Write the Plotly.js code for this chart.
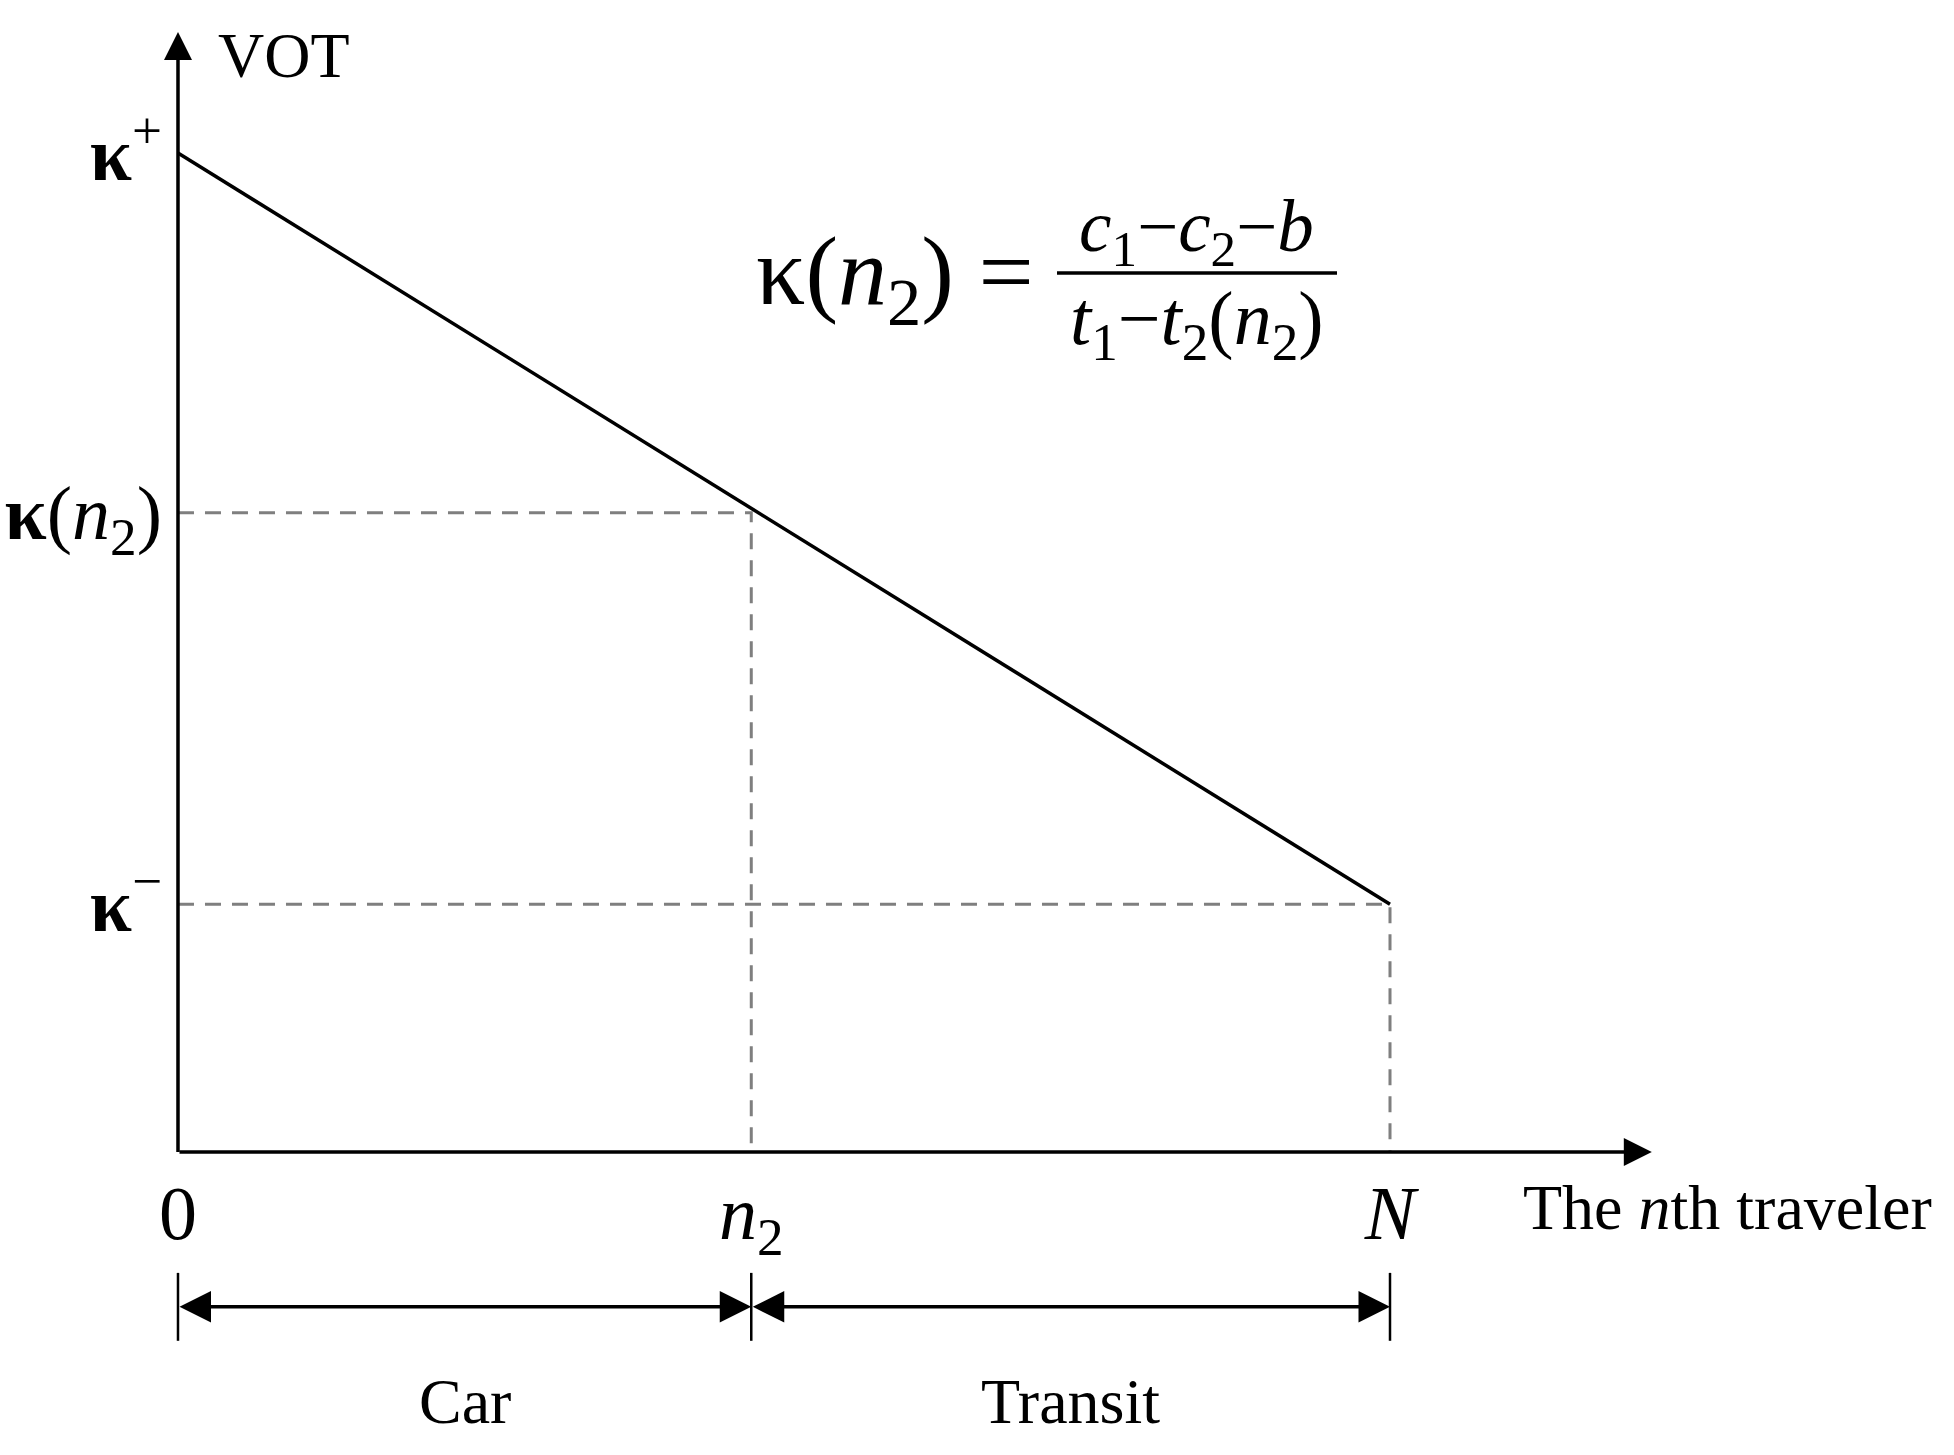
<!DOCTYPE html>
<html>
<head>
<meta charset="utf-8">
<script src="https://cdn.plot.ly/plotly-3.0.1.min.js"></script>
<style>
  html, body { margin: 0; padding: 0; background: #fff; }
  #chart { width: 1954px; height: 1455px; }
</style>
</head>
<body>
<div id="chart"></div>
<script>
// travelers along the horizontal axis: 0, n2, N
const travelers = [0, 47.3, 100];
const travelerTicks = ['0', '<i>n</i><sub>2</sub>', '<i>N</i>'];

// value of time: kappa+, kappa(n2), kappa-
const vot = [100, 64.0, 24.8];
const votTicks = ['<b>κ</b><sup>+</sup>', '<b>κ</b>(<i>n</i><sub>2</sub>)', '<b>κ</b><sup>−</sup>'];

// mode split below the axis
const modes = ['Car', 'Transit'];

const W = 1954, H = 1455;
const serif = '"Liberation Serif", "Times New Roman", serif';

// helpers for placing text in page pixels
const px = v => v / W;
const py = v => 1 - v / H;

// axis extents (data units)
const xEnd = 121.6;
const yEnd = 112.1;
const dimY = -15.5;
const dimTick = 3.4;

const guideColor = '#7f7f7f';

// demand line from kappa+ at 0 down to kappa- at N
const demand = {
    x: [travelers[0], travelers[2]],
    y: [vot[0], vot[2]],
    mode: 'lines',
    line: {color: '#000', width: 3.5},
    hoverinfo: 'skip'
};

// dashed guides at n2 and N
const guides = {
    x: [travelers[0], travelers[1], travelers[1], null, travelers[0], travelers[2], travelers[2]],
    y: [vot[1], vot[1], 0, null, vot[2], vot[2], 0],
    mode: 'lines',
    line: {color: guideColor, width: 3, dash: '16px,11px'},
    hoverinfo: 'skip'
};

// small vertical ticks of the dimension line
const dimX = [], dimYs = [];
travelers.forEach(t => {
    dimX.push(t, t, null);
    dimYs.push(dimY + dimTick, dimY - dimTick, null);
});
const dimTicks = {
    x: dimX,
    y: dimYs,
    mode: 'lines',
    line: {color: '#000', width: 2.5},
    hoverinfo: 'skip'
};

function arrow(x, y, ax, ay, both, size) {
    return {
        x: x, y: y, ax: ax, ay: ay,
        xref: 'x', yref: 'y', axref: 'x', ayref: 'y',
        text: '', showarrow: true,
        arrowhead: 2, arrowsize: size, arrowwidth: 3.5, arrowcolor: '#000',
        startarrowhead: 2, startarrowsize: size,
        arrowside: both ? 'end+start' : 'end',
        standoff: 0, startstandoff: 0
    };
}

function label(text, x, y, size, xanchor) {
    return {
        text: text, x: px(x), y: py(y), xref: 'paper', yref: 'paper',
        showarrow: false, xanchor: xanchor || 'center', yanchor: 'middle',
        font: {family: serif, size: size, color: '#000'}
    };
}

const annotations = [
    // axes
    arrow(travelers[0], yEnd, travelers[0], -0.15, false, 1.6),
    arrow(xEnd, 0, travelers[0], 0, false, 1.6),
    // Car / Transit spans
    arrow(travelers[1], dimY, travelers[0], dimY, true, 1.8),
    arrow(travelers[2], dimY, travelers[1], dimY, true, 1.8),
    {
        text: modes[0], x: (travelers[0] + travelers[1]) / 2, y: -25,
        xref: 'x', yref: 'y', showarrow: false,
        font: {family: serif, size: 64, color: '#000'}
    },
    {
        text: modes[1], x: (travelers[1] + travelers[2]) / 2, y: -25,
        xref: 'x', yref: 'y', showarrow: false,
        font: {family: serif, size: 64, color: '#000'}
    },
    // axis titles
    label('VOT', 216, 56, 64, 'left'),
    label('The <i>n</i>th traveler', 1521, 1207, 64, 'left'),
    // formula
    label('κ(<i>n</i><sub>2</sub>) =', 1036, 278, 98, 'right'),
    label('<i>c</i><sub>1</sub>−<i>c</i><sub>2</sub>−<i>b</i>', 1196, 231, 73),
    label('<i>t</i><sub>1</sub>−<i>t</i><sub>2</sub>(<i>n</i><sub>2</sub>)', 1197, 324, 76)
];

const shapes = [
    // fraction bar
    {type: 'line', xref: 'paper', yref: 'paper',
     x0: px(1057), x1: px(1337), y0: py(273), y1: py(273),
     line: {color: '#000', width: 3.5}}
];

const layout = {
    width: W,
    height: H,
    margin: {l: 0, r: 0, t: 0, b: 0, pad: 0},
    paper_bgcolor: '#fff',
    plot_bgcolor: '#fff',
    showlegend: false,
    xaxis: {
        range: [-14.686, 146.535],
        anchor: 'free', position: 1 - 1152 / H,
        showline: false, showgrid: false, zeroline: false,
        ticks: '', tickvals: travelers, ticktext: travelerTicks,
        ticklabelstandoff: 10,
        tickfont: {family: serif, size: 76, color: '#000'},
        automargin: false, fixedrange: true
    },
    yaxis: {
        range: [-30.33, 115.315],
        anchor: 'free', position: 178 / W,
        showline: false, showgrid: false, zeroline: false,
        ticks: '', tickvals: vot, ticktext: votTicks,
        ticklabelstandoff: 16,
        tickfont: {family: serif, size: 76, color: '#000'},
        automargin: false, fixedrange: true
    },
    annotations: annotations,
    shapes: shapes
};

Plotly.newPlot('chart', [guides, demand, dimTicks], layout, {displayModeBar: false, staticPlot: true});
</script>
</body>
</html>
